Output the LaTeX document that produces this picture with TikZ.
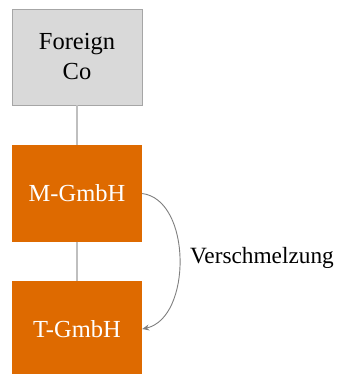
\documentclass[tikz,border=0pt]{standalone}
\usepackage{fontspec}
\setmainfont{Liberation Serif}
\usetikzlibrary{arrows.meta}
\definecolor{boxorange}{HTML}{DE6A00}
\definecolor{boxgray}{HTML}{D9D9D9}
\definecolor{edgegray}{HTML}{A6A6A6}
\definecolor{linkgray}{HTML}{BFBFBF}
\definecolor{arcgray}{HTML}{7F7F7F}
\tikzset{
  entity/.style={rectangle, minimum width=130pt, minimum height=96pt, inner sep=0pt,
    align=center, font=\fontsize{24.5}{30}\selectfont},
  graybox/.style={entity, fill=boxgray, draw=edgegray, line width=0.8pt, text=black},
  orangebox/.style={entity, fill=boxorange, draw=none, text=white},
  link/.style={draw=linkgray, line width=1.2pt},
  merge/.style={draw=arcgray, line width=0.9pt, -{Stealth[length=7pt,width=6pt]}},
  caption/.style={font=\fontsize{23.3}{28}\selectfont, text=black, inner sep=0pt}
}
\begin{document}
\begin{tikzpicture}[x=1pt,y=-1pt]
\useasboundingbox (0,0) rectangle (339,374);
\node[graybox] (fc) at (77,57) {Foreign\\Co};
\node[orangebox] (m) at (77,193.5) {M-GmbH};
\node[orangebox] (t) at (77,329) {T-GmbH};
\draw[link] (fc) -- (m);
\draw[link] (m) -- (t);
\draw[merge] (m.east) .. controls (192,200) and (192,318) .. (t.east);
\node[caption] (lbl) at (262,258) {Verschmelzung};
\end{tikzpicture}
\end{document}
